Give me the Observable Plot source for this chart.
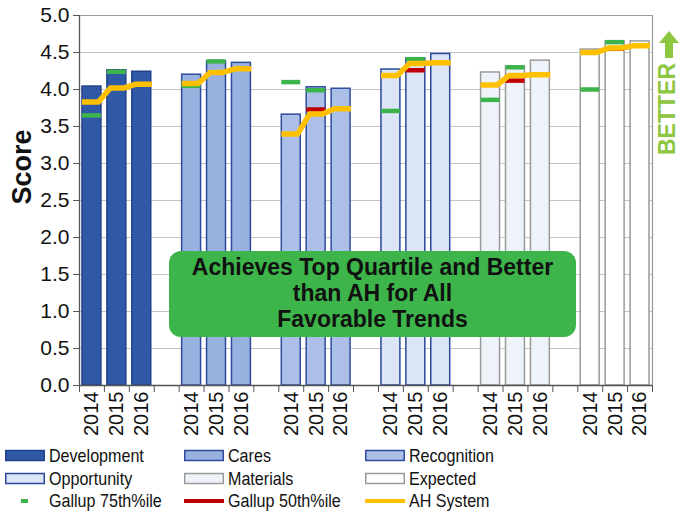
<!DOCTYPE html>
<html>
<head>
<meta charset="utf-8">
<script src="https://cdn.jsdelivr.net/npm/d3@7"></script>
<script src="https://cdn.jsdelivr.net/npm/@observablehq/plot@0.6"></script>
<style>
  html, body { margin: 0; padding: 0; background: #fff; }
  body { font-family: "Liberation Sans", Arial, sans-serif; }
  #wrap { position: relative; width: 680px; height: 517px; overflow: hidden; }
  .ov { position: absolute; }
  #side { left: 0; top: 0; pointer-events: none; }
  #note { left: 169px; top: 251px; width: 407px; height: 86px; background: #3db54a; border-radius: 12px; box-sizing: border-box; padding-top: 3px; text-align: center; font-weight: bold; font-size: 23px; line-height: 26px; color: #111; }
  #legend { position: absolute; left: 0; top: 440px; width: 680px; height: 77px; }
  .li { position: absolute; height: 22px; display: flex; align-items: center; font-size: 18.5px; color: #111; white-space: nowrap; }
  .li svg { margin-right: 4px; flex: none; }
  .li span { display: inline-block; transform: scaleX(0.87); transform-origin: left center; }
</style>
</head>
<body>
<div id="wrap">
  <div id="chart"></div>
  <svg class="ov" id="side" width="680" height="440">
    <text transform="translate(31,167) rotate(-90)" text-anchor="middle" font-family="'Liberation Sans', Arial, sans-serif" font-weight="bold" font-size="27" fill="#111">Score</text>
    <path d="M669 31 L679 43 L673 43 L673 58 L665 58 L665 43 L659 43 Z" fill="#8dc63f"/>
    <text transform="translate(675,109) rotate(-90)" text-anchor="middle" font-family="'Liberation Sans', Arial, sans-serif" font-weight="bold" font-size="23" fill="#8dc63f">BETTER</text>
  </svg>
  <div class="ov" id="note">Achieves Top Quartile and Better<br>than AH for All<br>Favorable Trends</div>
  <div id="legend"></div>
</div>
<script>
// ---- data ----
const categories = ["Development", "Cares", "Recognition", "Opportunity", "Materials", "Expected"];
const years = ["2014", "2015", "2016"];

// bar scores (2014, 2015, 2016)
const development = [4.04, 4.26, 4.24];
const cares       = [4.20, 4.38, 4.36];
const recognition = [3.66, 4.03, 4.01];
const opportunity = [4.27, 4.42, 4.48];
const materials   = [4.23, 4.31, 4.39];
const expected    = [4.54, 4.65, 4.65];

// Gallup 75th percentile (by category) for 2014 and 2015
const gallup75_2014 = [3.65, 4.05, 4.10, 3.71, 3.86, 4.00];
const gallup75_2015 = [4.24, 4.38, 3.99, 4.41, 4.30, 4.64];
// Gallup 50th percentile (by category) for 2015
const gallup50_2015 = [null, null, 3.73, 4.26, 4.12, 4.55];

// AH System (2014, 2015, 2016) by category
const ahDevelopment = [3.83, 4.02, 4.07];
const ahCares       = [4.08, 4.23, 4.28];
const ahRecognition = [3.40, 3.67, 3.74];
const ahOpportunity = [4.19, 4.35, 4.36];
const ahMaterials   = [4.06, 4.19, 4.20];
const ahExpected    = [4.50, 4.56, 4.59];

const yTickValues = [0, 0.5, 1, 1.5, 2, 2.5, 3, 3.5, 4, 4.5, 5];

// ---- styles ----
const barFill   = ["#2f58a6", "#98b1df", "#acc0e7", "#dce5f5", "#eef2f9", "#ffffff"];
const barStroke = ["#21428a", "#2c4c9c", "#2c4c9c", "#2a4a9c", "#9a9a9a", "#9a9a9a"];
const green = "#3cb44b", red = "#c00000", orange = "#ffc000";

// ---- build tables ----
const barValues = [development, cares, recognition, opportunity, materials, expected];
const ahValues = [ahDevelopment, ahCares, ahRecognition, ahOpportunity, ahMaterials, ahExpected];
const SLOTS = 4; // 3 years + 1 gap per category
const half = 0.38;

const bars = categories.flatMap((c, i) => years.map((yr, j) => ({ ci: i, category: c, year: yr, slot: i * SLOTS + j, value: barValues[i][j] })));
const g75 = categories.flatMap((c, i) => [
  { slot: i * SLOTS + 0, value: gallup75_2014[i] },
  { slot: i * SLOTS + 1, value: gallup75_2015[i] }
]).filter(d => d.value != null);
const g50 = categories.map((c, i) => ({ slot: i * SLOTS + 1, value: gallup50_2015[i] })).filter(d => d.value != null);
const ahPts = categories.flatMap((c, i) => years.flatMap((yr, j) => {
  const s = i * SLOTS + j, v = ahValues[i][j];
  const left = j === 0 ? s - 0.4 : s - 0.26;
  const right = j === years.length - 1 ? s + 0.4 : s + 0.26;
  return [{ category: c, x: left, y: v }, { category: c, x: right, y: v }];
}));

const nSlots = categories.length * SLOTS - 1;
const boundaries = d3.range(0, nSlots + 1).map(k => k - 0.5);
const barSlots = bars.map(d => d.slot);

const chart = Plot.plot({
  width: 680,
  height: 440,
  marginLeft: 79,
  marginRight: 28,
  marginTop: 15,
  marginBottom: 55,
  x: { type: "linear", domain: [-0.5, nSlots - 0.5], axis: null },
  y: { domain: [0, 5], axis: null },
  style: { fontFamily: "'Liberation Sans', Arial, sans-serif", color: "#111", background: "white", overflow: "visible" },
  marks: [
    Plot.gridY({ ticks: yTickValues, stroke: "#c4c4c4", strokeOpacity: 1 }),
    Plot.ruleY([5], { stroke: "#9a9a9a", strokeWidth: 1.2 }),
    Plot.ruleX([nSlots - 0.5], { stroke: "#9a9a9a", strokeWidth: 1.2 }),
    Plot.rectY(bars, {
      x1: d => d.slot - half, x2: d => d.slot + half, y: "value",
      fill: d => barFill[d.ci], stroke: d => barStroke[d.ci], strokeWidth: 1.5
    }),
    Plot.ruleY(g50, { y: "value", x1: d => d.slot - half, x2: d => d.slot + half, stroke: red, strokeWidth: 4.5 }),
    Plot.ruleY(g75, { y: "value", x1: d => d.slot - half, x2: d => d.slot + half, stroke: green, strokeWidth: 4.5 }),
    Plot.line(ahPts, { x: "x", y: "y", z: "category", stroke: orange, strokeWidth: 5.5, strokeLinejoin: "round", strokeLinecap: "butt" }),
    Plot.ruleX([-0.5], { stroke: "#555", strokeWidth: 1.3 }),
    Plot.ruleY([0], { stroke: "#555", strokeWidth: 1.3 }),
    Plot.axisY({ ticks: yTickValues, tickFormat: d3.format(".1f"), tickSize: 6, tickPadding: 4, fontSize: 21, label: null, stroke: "#555" }),
    Plot.axisX({ ticks: boundaries, tickFormat: () => "", tickSize: 7, label: null, stroke: "#555" }),
    Plot.axisX({ ticks: barSlots, tickFormat: d => years[d % SLOTS], tickSize: 0, tickPadding: 6, tickRotate: -90, fontSize: 20, label: null })
  ]
});
document.getElementById("chart").appendChild(chart);

// ---- legend ----
const legendItems = [
  { label: "Development", kind: "rect", fill: barFill[0], stroke: barStroke[0], col: 0, row: 0 },
  { label: "Cares", kind: "rect", fill: barFill[1], stroke: barStroke[1], col: 1, row: 0 },
  { label: "Recognition", kind: "rect", fill: barFill[2], stroke: barStroke[2], col: 2, row: 0 },
  { label: "Opportunity", kind: "rect", fill: barFill[3], stroke: barStroke[3], col: 0, row: 1 },
  { label: "Materials", kind: "rect", fill: barFill[4], stroke: barStroke[4], col: 1, row: 1 },
  { label: "Expected", kind: "rect", fill: barFill[5], stroke: barStroke[5], col: 2, row: 1 },
  { label: "Gallup 75th%ile", kind: "dash", stroke: green, col: 0, row: 2 },
  { label: "Gallup 50th%ile", kind: "line", stroke: red, col: 1, row: 2 },
  { label: "AH System", kind: "line", stroke: orange, col: 2, row: 2 }
];
const colX = [5, 184, 365];
const rowY = [5, 28, 50];
const legend = document.getElementById("legend");
for (const it of legendItems) {
  const div = document.createElement("div");
  div.className = "li";
  div.style.left = colX[it.col] + "px";
  div.style.top = rowY[it.row] + "px";
  let sw;
  if (it.kind === "rect") sw = `<rect x="0.75" y="5.5" width="38.5" height="10" fill="${it.fill}" stroke="${it.stroke}" stroke-width="1.5"/>`;
  else if (it.kind === "dash") sw = `<line x1="16" x2="23" y1="11" y2="11" stroke="${it.stroke}" stroke-width="4"/>`;
  else sw = `<line x1="0" x2="40" y1="11" y2="11" stroke="${it.stroke}" stroke-width="4"/>`;
  div.innerHTML = `<svg width="40" height="22">${sw}</svg><span>${it.label}</span>`;
  legend.appendChild(div);
}
</script>
</body>
</html>
